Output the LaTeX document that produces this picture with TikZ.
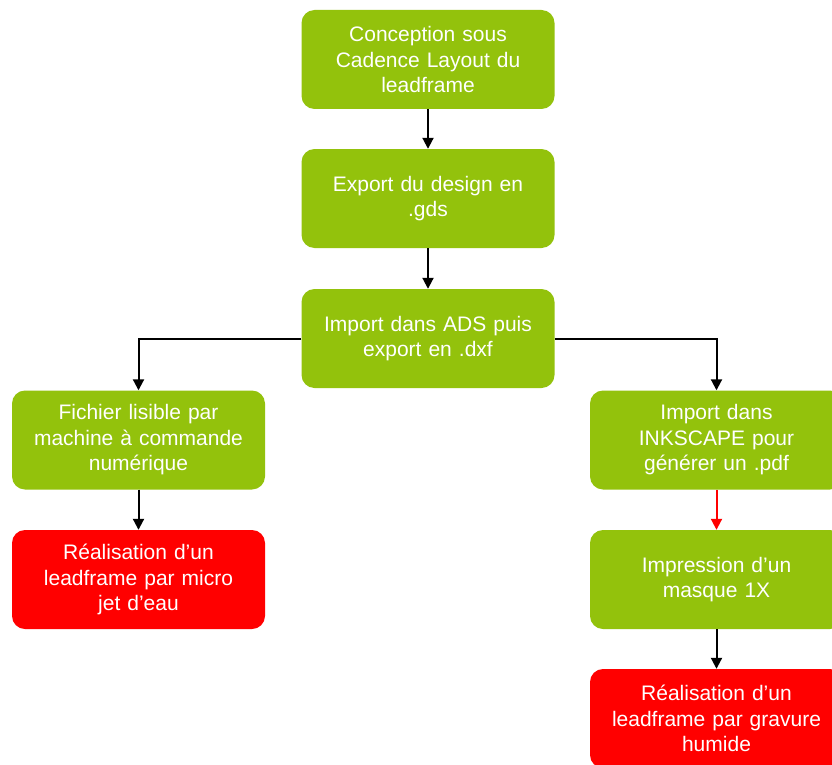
\documentclass[tikz,border=0pt]{standalone}
\usepackage{fontspec}
\setmainfont{Liberation Sans}
\usetikzlibrary{arrows.meta}
\definecolor{boxgreen}{RGB}{147,194,12}
\definecolor{boxred}{RGB}{255,0,0}
\begin{document}
\begin{tikzpicture}[x=1pt,y=-1pt,
  stepbox/.style={rounded corners=13pt, minimum width=253pt, minimum height=99pt,
    text width=240pt, align=center, text=white, inner sep=0pt,
    font=\fontsize{21}{25.5}\selectfont},
  greenbox/.style={stepbox, fill=boxgreen},
  redbox/.style={stepbox, fill=boxred},
  conn/.style={line width=2pt, -{Triangle[width=11pt,length=11pt]}}]
\clip (0,0) rectangle (832,765);
\node[greenbox] (b1) at (428,59.5) {Conception sous\\Cadence Layout du\\leadframe};
\node[greenbox] (b2) at (428,198.5) {Export du design en\\.gds};
\node[greenbox] (b3) at (428,338.5) {Import dans ADS puis\\export en .dxf};
\node[greenbox] (b4) at (138.5,440) {Fichier lisible par\\machine à commande\\numérique};
\node[redbox] (b5) at (138.5,579.5) {Réalisation d’un\\leadframe par micro\\jet d’eau};
\node[greenbox] (b6) at (716.5,440) {Import dans\\INKSCAPE pour\\générer un .pdf};
\node[greenbox] (b7) at (716.5,579.5) {Impression d’un\\masque 1X};
\node[redbox] (b8) at (716.5,718.5) {Réalisation d’un\\leadframe par gravure\\humide};
\draw[conn] (b1) -- (b2);
\draw[conn] (b2) -- (b3);
\draw[conn] (b3.west) -| (b4.north);
\draw[conn] (b3.east) -| (b6.north);
\draw[conn] (b4) -- (b5);
\draw[conn, draw=boxred, fill=boxred] (b6) -- (b7);
\draw[conn] (b7) -- (b8);
\end{tikzpicture}
\end{document}
